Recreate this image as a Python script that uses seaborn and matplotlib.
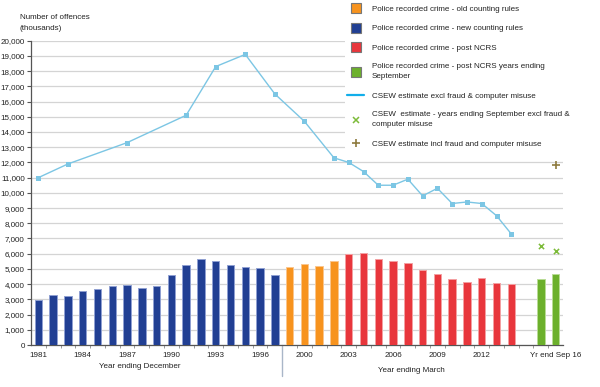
import matplotlib
matplotlib.use("Agg")
import matplotlib.pyplot as plt
import matplotlib.transforms as mtransforms
from matplotlib.lines import Line2D
import pandas as pd
import seaborn as sns

# ---------------- data ----------------
blue_years = ["1981", "1982", "1983", "1984", "1985", "1986", "1987", "1988", "1989",
              "1990", "1991", "1992", "1993", "1994", "1995", "1996", "1997"]
blue_vals = [2960, 3280, 3250, 3520, 3650, 3890, 3940, 3740, 3890,
             4570, 5290, 5620, 5530, 5290, 5130, 5070, 4600]

orange_years = ["1999", "2000", "2001", "2002"]
orange_vals = [5110, 5310, 5190, 5510]

red_years = ["2003", "2004", "2005", "2006", "2007", "2008", "2009", "2010",
             "2011", "2012", "2013", "2014"]
red_vals = [5970, 6020, 5650, 5510, 5400, 4920, 4660, 4310, 4140, 4380, 4070, 4000]

gap_cats = ["2015"]

green_cats = ["Sep 15", "Sep 16"]
green_vals = [4330, 4680]

csew_cats = ["1981", "1983", "1987", "1991", "1993", "1995", "1997", "2000", "2002",
             "2003", "2004", "2005", "2006", "2007", "2008", "2009", "2010", "2011",
             "2012", "2013", "2014"]
csew_vals = [11000, 11900, 13300, 15100, 18300, 19100, 16500, 14700, 12300,
             12000, 11400, 10500, 10500, 10900, 9800, 10300, 9300, 9400,
             9300, 8500, 7300]

sep_cats = ["Sep 15", "Sep 16"]
sep_vals = [6500, 6200]

incl_cats = ["Sep 16"]
incl_vals = [11800]

tick_cats = ["1981", "1984", "1987", "1990", "1993", "1996", "2000", "2003",
             "2006", "2009", "2012", "Sep 16"]
tick_labels = ["1981", "1984", "1987", "1990", "1993", "1996", "2000", "2003",
               "2006", "2009", "2012", "Yr end Sep 16"]

group_names = ["Police recorded crime - old counting rules",
               "Police recorded crime - new counting rules",
               "Police recorded crime - post NCRS",
               "Police recorded crime - post NCRS years ending\nSeptember"]
line_name = "CSEW estimate excl fraud & computer misuse"
sep_name = "CSEW  estimate - years ending September excl fraud &\ncomputer misuse"
incl_name = "CSEW estimate incl fraud and computer misuse"

y_ticks = [0, 1000, 2000, 3000, 4000, 5000, 6000, 7000, 8000, 9000, 10000,
           11000, 12000, 13000, 14000, 15000, 16000, 17000, 18000, 19000, 20000]

# ---------------- style ----------------
sns.set_style("white")
plt.rcParams["font.family"] = ["Liberation Sans", "DejaVu Sans"]

c_orange = "#F7931E"
c_blue = "#213F93"
c_red = "#E8363C"
c_green = "#6CB02C"
edge_map = {c_orange: "#FBC58C", c_blue: "#8FA0D2", c_red: "#F4A0A2", c_green: "#B9DC96"}
c_line = "#7CC6E4"
c_x = "#7DBB3A"
c_plus = "#8E7A3E"
text_c = "#222222"
fs = 5.8

order = blue_years + orange_years + red_years + gap_cats + green_cats

df = pd.DataFrame({
    "cat": blue_years + orange_years + red_years + green_cats,
    "val": blue_vals + orange_vals + red_vals + green_vals,
    "group": ([group_names[1]] * len(blue_years) + [group_names[0]] * len(orange_years)
              + [group_names[2]] * len(red_years) + [group_names[3]] * len(green_cats)),
})
palette = {group_names[0]: c_orange, group_names[1]: c_blue,
           group_names[2]: c_red, group_names[3]: c_green}

fig = plt.figure(figsize=(6, 3.87), dpi=100)
ax = fig.add_axes([31 / 600, 1 - 345 / 387, (563 - 31) / 600, (345 - 40.7) / 387])

sns.barplot(data=df, x="cat", y="val", hue="group", order=order,
            hue_order=group_names, palette=palette, dodge=False, width=0.5,
            saturation=1, legend=False, ax=ax, zorder=3)
for p in ax.patches:
    fc = matplotlib.colors.to_hex(p.get_facecolor()).upper()
    for k, v in edge_map.items():
        if k.upper() == fc:
            p.set_edgecolor(v)
    p.set_linewidth(0.7)

csew_x = [order.index(c) for c in csew_cats]
sns.lineplot(x=csew_x, y=csew_vals, color=c_line, lw=1.0, marker="s",
             markersize=3.6, markeredgewidth=0, ax=ax, zorder=4)

sep_x = [order.index(c) for c in sep_cats]
sns.scatterplot(x=sep_x, y=sep_vals, marker="x", color=c_x, s=14,
                linewidth=1.1, ax=ax, zorder=5)
incl_x = [order.index(c) for c in incl_cats]
sns.scatterplot(x=incl_x, y=incl_vals, marker="+", color=c_plus, s=30,
                linewidth=1.2, ax=ax, zorder=5)

ax.set_xlim(-0.5, len(order) - 0.5)
ax.set_ylim(0, 20000)
ax.set_yticks(y_ticks)
ax.set_yticklabels([f"{v:,}" for v in y_ticks], fontsize=fs, color=text_c)
ax.set_xticks([order.index(c) for c in tick_cats])
ax.set_xticklabels(tick_labels, fontsize=fs, color=text_c)
ax.set_xticks([i + 0.5 for i in range(len(order) - 1)], minor=True)
ax.tick_params(axis="x", which="major", length=0, pad=5)
ax.tick_params(axis="x", which="minor", length=2.5, width=0.6, color="#888888", direction="out", bottom=True)
ax.tick_params(axis="y", which="major", length=3.0, width=0.8, color="#555555", direction="out", left=True, pad=1.5)
ax.set_xlabel("")
ax.set_ylabel("")
ax.yaxis.grid(True, color="#D4D4D4", lw=0.9, zorder=0)
ax.set_axisbelow(True)
for s in ["top", "right"]:
    ax.spines[s].set_visible(False)
ax.spines["left"].set_color("#555555")
ax.spines["left"].set_linewidth(0.9)
ax.spines["bottom"].set_color("#555555")
ax.spines["bottom"].set_linewidth(0.9)

# separator between year ending December and year ending March
trans = mtransforms.blended_transform_factory(ax.transData, ax.transAxes)
sep_pos = (order.index(blue_years[-1]) + order.index(orange_years[0])) / 2
ax.plot([sep_pos, sep_pos], [0, -0.103], transform=trans, color="#A9B6C8",
        lw=1.0, clip_on=False)

fig.text(140 / 600, 1 - 367 / 387, "Year ending December", ha="center", va="center",
         fontsize=fs, color=text_c)
fig.text(411 / 600, 1 - 371 / 387, "Year ending March", ha="center", va="center",
         fontsize=fs, color=text_c)
fig.text(20 / 600, 1 - 14 / 387, "Number of offences\n(thousands)", ha="left", va="top",
         fontsize=fs, color=text_c, linespacing=1.9)

handles = [
    Line2D([], [], ls="none", marker="s", markersize=7.5, markerfacecolor=c_orange,
           markeredgecolor="#777777", markeredgewidth=0.8),
    Line2D([], [], ls="none", marker="s", markersize=7.5, markerfacecolor=c_blue,
           markeredgecolor="#777777", markeredgewidth=0.8),
    Line2D([], [], ls="none", marker="s", markersize=7.5, markerfacecolor=c_red,
           markeredgecolor="#777777", markeredgewidth=0.8),
    Line2D([], [], ls="none", marker="s", markersize=7.5, markerfacecolor=c_green,
           markeredgecolor="#777777", markeredgewidth=0.8),
    Line2D([], [], color="#12AEEA", lw=1.6),
    Line2D([], [], ls="none", marker="x", color=c_x, markersize=4, markeredgewidth=1.1),
    Line2D([], [], ls="none", marker="+", color=c_plus, markersize=5.5, markeredgewidth=1.2),
]
labels = group_names + [line_name, sep_name, incl_name]
leg = fig.legend(handles, labels, loc="upper left", bbox_to_anchor=(345 / 600, 1 - 3 / 387),
                 fontsize=fs, frameon=True, facecolor="white", edgecolor="none",
                 framealpha=1, handlelength=2.1, handletextpad=0.9, labelspacing=1.45,
                 borderpad=0.3, borderaxespad=0.0)
for t in leg.get_texts():
    t.set_color(text_c)
    t.set_linespacing(1.6)

fig.savefig("out.png", dpi=100)
